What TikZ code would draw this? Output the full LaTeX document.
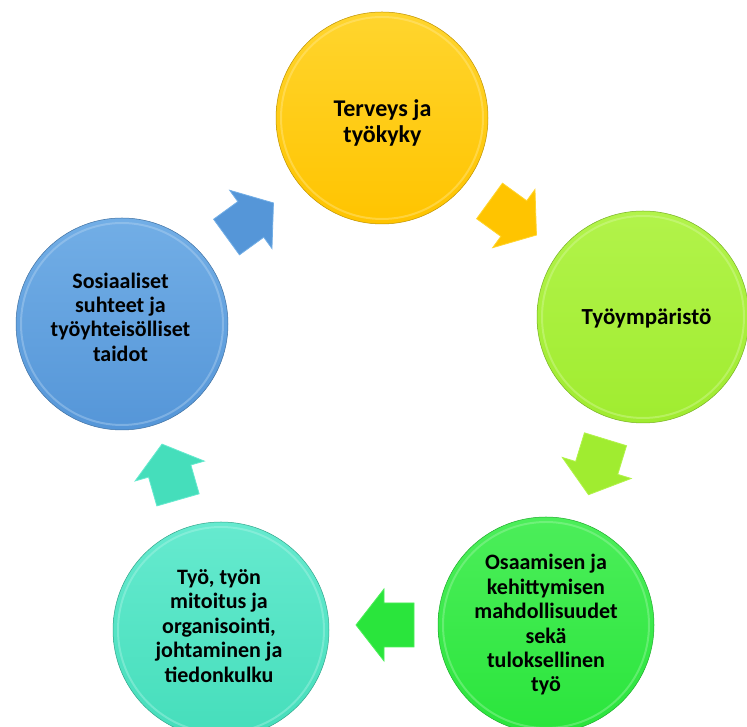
\documentclass[tikz,border=0pt]{standalone}
\usepackage{fontspec}
\setmainfont{Carlito}
\usetikzlibrary{shadings}
\definecolor{yelB}{HTML}{FFC400}\definecolor{yelT}{HTML}{FFD52E}
\definecolor{limB}{HTML}{A0EC30}\definecolor{limT}{HTML}{B2F34A}
\definecolor{grnB}{HTML}{2AE53C}\definecolor{grnT}{HTML}{4CEE5A}
\definecolor{teaB}{HTML}{45DEBB}\definecolor{teaT}{HTML}{66EACF}
\definecolor{bluB}{HTML}{5596D8}\definecolor{bluT}{HTML}{72AEE6}
\tikzset{
  disc/.style n args={2}{circle, minimum size=212pt, inner sep=0pt,
     top color=#2, bottom color=#1, draw=#1!75!black, line width=0.5pt},
  rim/.style={draw=#1, line width=2pt, opacity=0.4},
  lbl/.style={font=\bfseries, align=center, text=black},
  blockarrow/.style n args={2}{fill=#1, draw=#2, line width=0.8pt, line join=miter}
}
\newcommand{\blkarrow}[4]{% center, angle, fill, edge
  \begin{scope}[shift={#1}, rotate=#2]
    \draw[blockarrow={#3}{#4}] (-29,-22) -- (1,-22) -- (1,-36) -- (29,0) -- (1,36) -- (1,22) -- (-29,22) -- cycle;
  \end{scope}}
\begin{document}
\begin{tikzpicture}[x=1pt,y=1pt]
\useasboundingbox (0,0) rectangle (747,727);
\clip (0,0) rectangle (747,727);
\fill[white] (0,0) rectangle (747,727);
% circles
\node[disc={yelB}{yelT}] (c1) at (382,609) {};
\draw[rim=yelT!50!white] (c1.center) circle (101pt);
\node[disc={limB}{limT}] (c2) at (643,410) {};
\draw[rim=limT!50!white] (c2.center) circle (101pt);
\node[disc={grnB}{grnT}, minimum size=216pt] (c3) at (546,102) {};
\draw[rim=grnT!50!white] (c3.center) circle (103pt);
\node[disc={teaB}{teaT}, minimum size=216pt] (c4) at (221,97) {};
\draw[rim=teaT!50!white] (c4.center) circle (103pt);
\node[disc={bluB}{bluT}] (c5) at (122,403) {};
\draw[rim=bluT!50!white] (c5.center) circle (101pt);
% labels
\node[lbl, font=\bfseries\fontsize{24}{26.7}\selectfont] (t1) at (382.5,604) {Terveys ja\\työkyky};
\node[lbl, font=\bfseries\fontsize{23}{25.5}\selectfont] (t2) at (646.5,409) {Työympäristö};
\node[lbl, font=\bfseries\fontsize{22}{24.4}\selectfont] (t3) at (546,102) {Osaamisen ja\\kehittymisen\\mahdollisuudet\\sekä\\tuloksellinen\\työ};
\node[lbl, font=\bfseries\fontsize{22}{24.4}\selectfont] (t4) at (219,101) {Työ, työn\\mitoitus ja\\organisointi,\\johtaminen ja\\tiedonkulku};
\node[lbl, font=\bfseries\fontsize{22}{24.4}\selectfont] (t5) at (120.5,410) {Sosiaaliset\\suhteet ja\\työyhteisölliset\\taidot};
% arrows
\blkarrow{(513,509)}{-36}{yelB}{yelT}
\blkarrow{(597,260)}{-107}{limB}{limT}
\blkarrow{(385,102)}{180}{grnB}{grnT}
\blkarrow{(170,255)}{106}{teaB}{teaT}
\blkarrow{(250,507)}{36}{bluB}{bluT}
\end{tikzpicture}
\end{document}
